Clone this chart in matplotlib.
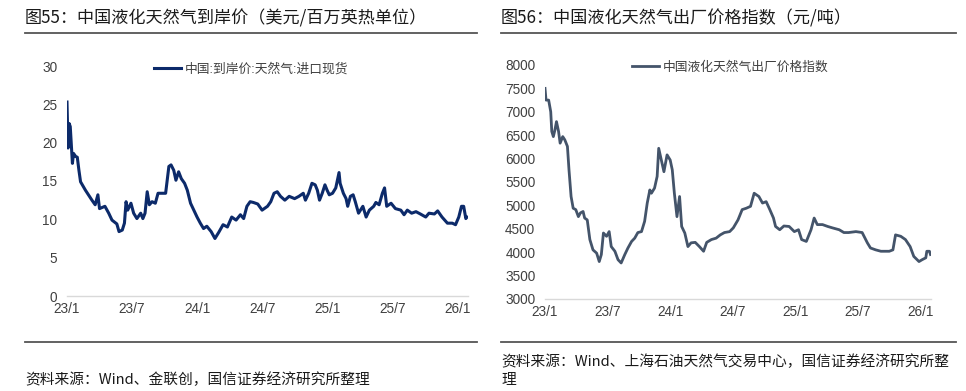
import numpy as np
import matplotlib
matplotlib.use('Agg')
import matplotlib.pyplot as plt
from matplotlib.lines import Line2D

plt.rcParams['font.family'] = ['Liberation Sans', 'Noto Sans CJK SC']

# months since 2023-01
lng_t = [0, 0.1, 0.2, 0.3, 0.5, 0.6, 0.8, 0.95, 1.1, 1.25, 1.7, 2.3, 2.6, 2.85, 3.0, 3.5, 3.85,
         4.15, 4.6, 4.8, 5.1, 5.3, 5.45, 5.6, 5.9, 6.15, 6.45, 6.8, 7.0, 7.2, 7.4, 7.6, 7.85,
         8.15, 8.4, 8.75, 9.1, 9.4, 9.6, 9.85, 10.05, 10.3, 10.55, 10.85, 11.1, 11.4, 11.7,
         12.0, 12.3, 12.6, 12.9, 13.3, 13.65, 14.0, 14.4, 14.8, 15.2, 15.6, 16.0, 16.3, 16.6,
         16.9, 17.2, 17.6, 18.0, 18.5, 18.8, 19.1, 19.4, 19.7, 20.1, 20.5, 21.0, 21.4, 21.8,
         22.0, 22.3, 22.6, 22.9, 23.1, 23.3, 23.55, 23.8, 24.0, 24.2, 24.5, 24.8, 25.1, 25.2,
         25.5, 25.75, 25.9, 26.15, 26.4, 26.6, 26.9, 27.3, 27.6, 27.9, 28.3, 28.5, 28.8, 29.1,
         29.3, 29.5, 29.9, 30.3, 30.8, 31.1, 31.4, 31.8, 32.2, 32.6, 33.1, 33.4, 33.9, 34.2,
         34.6, 35.1, 35.55, 35.85, 36.15, 36.4, 36.6, 36.8, 36.9]
lng_v = [25.3, 19.3, 22.5, 22.1, 17.3, 18.6, 18.2, 18.1, 16.4, 14.9, 13.8, 12.5, 11.9, 13.2, 11.4,
         11.7, 10.8, 9.9, 9.4, 8.4, 8.6, 9.5, 12.3, 11.2, 12.1, 10.8, 10.1, 10.8, 10.1, 10.8,
         13.6, 11.9, 12.3, 12.1, 13.4, 13.4, 13.4, 16.9, 17.1, 16.4, 15.1, 16.2, 15.3, 14.7,
         13.8, 12.1, 11.2, 10.3, 9.5, 8.8, 9.1, 8.4, 7.5, 8.3, 9.3, 9.0, 10.3, 9.9, 10.6, 10.1,
         11.7, 12.3, 12.2, 12.0, 11.2, 11.7, 12.3, 13.4, 13.6, 13.0, 12.5, 13.0, 12.7, 13.0,
         13.4, 12.5, 13.4, 14.7, 14.5, 13.8, 12.5, 13.4, 14.5, 13.8, 13.2, 13.4, 14.1, 16.1,
         14.7, 13.4, 12.7, 11.7, 13.0, 13.2, 12.3, 10.8, 11.7, 10.3, 11.2, 11.7, 12.2, 11.9,
         13.4, 14.1, 11.7, 12.1, 11.4, 11.2, 10.6, 11.2, 10.8, 11.0, 10.7, 10.3, 10.8, 10.7,
         11.1, 10.3, 9.5, 9.5, 9.3, 10.3, 11.7, 11.7, 10.1, 10.3]

idx_t = [0, 0.1, 0.35, 0.55, 0.65, 0.8, 0.95, 1.1, 1.3, 1.45, 1.7, 1.9, 2.15, 2.3, 2.5, 2.7,
         2.95, 3.2, 3.4, 3.65, 3.8, 4.05, 4.3, 4.6, 4.95, 5.2, 5.4, 5.6, 5.9, 6.15, 6.35, 6.7,
         7.0, 7.3, 7.65, 7.95, 8.3, 8.6, 8.9, 9.25, 9.55, 9.8, 10.05, 10.2, 10.5, 10.75, 10.9,
         11.15, 11.4, 11.7, 12.0, 12.2, 12.4, 12.65, 12.9, 13.1, 13.4, 13.7, 14.0, 14.4, 14.8,
         15.2, 15.5, 15.95, 16.4, 16.8, 17.2, 17.7, 18.05, 18.5, 18.9, 19.3, 19.7, 20.05, 20.5,
         20.85, 21.2, 21.55, 21.9, 22.1, 22.5, 22.9, 23.4, 23.9, 24.3, 24.6, 25.05, 25.5, 25.8,
         26.1, 26.6, 27.1, 27.55, 28.2, 28.65, 29.1, 29.8, 30.4, 30.9, 31.2, 31.7, 32.2, 33.0,
         33.35, 33.6, 34.1, 34.55, 35.0, 35.35, 35.85, 36.15, 36.5, 36.6, 36.85, 36.95]
idx_v = [7500, 7250, 7250, 7000, 6580, 6470, 6610, 6790, 6580, 6330, 6470, 6400, 6260, 5760,
         5190, 4940, 4910, 4760, 4840, 4870, 4730, 4690, 4270, 4050, 3980, 3800, 3950, 4410,
         4340, 4440, 4120, 4020, 3840, 3770, 3950, 4090, 4230, 4300, 4420, 4440, 4660, 5050,
         5330, 5260, 5370, 5620, 6220, 5970, 5720, 6080, 5970, 5760, 5260, 4760, 5190, 4550,
         4410, 4120, 4200, 4210, 4120, 4020, 4210, 4270, 4300, 4370, 4420, 4440, 4520, 4690,
         4910, 4940, 4980, 5260, 5190, 5050, 5080, 4910, 4730, 4550, 4480, 4560, 4550, 4440,
         4480, 4270, 4230, 4480, 4730, 4590, 4590, 4550, 4520, 4480, 4420, 4420, 4440, 4420,
         4200, 4090, 4050, 4020, 4020, 4050, 4370, 4340, 4270, 4120, 3910, 3800, 3840, 3880,
         4020, 4020, 3950]

tick_pos = [0, 6, 12, 18, 24, 30, 36]
tick_lab = ['23/1', '23/7', '24/1', '24/7', '25/1', '25/7', '26/1']

W, H = 966, 391
fig = plt.figure(figsize=(W / 100, H / 100), dpi=100)


def box(x0, x1, ytop, ybot):
    return [x0 / W, 1 - ybot / H, (x1 - x0) / W, (ybot - ytop) / H]


def style(ax, leg_x):
    for s in ['left', 'right', 'top']:
        ax.spines[s].set_visible(False)
    ax.spines['bottom'].set_color('#d9d9d9')
    ax.spines['bottom'].set_linewidth(1.0)
    ax.tick_params(axis='both', length=0, labelsize=9.8, colors='#404040')
    ax.tick_params(axis='y', pad=7)
    ax.tick_params(axis='x', pad=4)
    ax.set_xticks(tick_pos)
    ax.set_xticklabels(tick_lab)
    ax.set_xlim(0, 37)
    leg = ax.legend(loc='upper center', bbox_to_anchor=(leg_x, 1.065), frameon=False,
                    fontsize=9.2, handlelength=2.1, handletextpad=0.3)
    for t in leg.get_texts():
        t.set_color('#404040')


ax1 = fig.add_axes(box(67, 468, 66, 296))
ax1.plot(lng_t, lng_v, color='#0c2a6a', lw=2.2, label='中国:到岸价:天然气:进口现货')
ax1.set_ylim(0, 30)
ax1.set_yticks([0, 5, 10, 15, 20, 25, 30])
style(ax1, 0.46)

ax2 = fig.add_axes(box(545, 931, 65, 299))
ax2.plot(idx_t, idx_v, color='#44546a', lw=2.0, label='中国液化天然气出厂价格指数')
ax2.set_ylim(3000, 8000)
ax2.set_yticks(range(3000, 8001, 500))
style(ax2, 0.48)

cjk = ['Noto Sans CJK SC', 'DejaVu Sans']
fig.text(25 / W, 1 - 18 / H, '图55：中国液化天然气到岸价（美元/百万英热单位）', family=cjk,
         fontsize=12.3, color='#1a1a1a', va='center', ha='left')
fig.text(501 / W, 1 - 18 / H, '图56：中国液化天然气出厂价格指数（元/吨）', family=cjk,
         fontsize=12.3, color='#1a1a1a', va='center', ha='left')

for x0, x1 in [(25, 477), (501, 956)]:
    for y in [33, 342]:
        fig.add_artist(Line2D([x0 / W, x1 / W], [1 - y / H, 1 - y / H], color='#555555', lw=1.3))

fig.text(25 / W, 1 - 380 / H, '资料来源：Wind、金联创，国信证券经济研究所整理', family=cjk,
         fontsize=10.6, color='#1a1a1a', va='center', ha='left')
fig.text(501 / W, 1 - 371 / H, '资料来源：Wind、上海石油天然气交易中心，国信证券经济研究所整\n理',
         family=cjk, fontsize=10.6, color='#1a1a1a', va='center', ha='left', linespacing=1.35)

fig.savefig('out.png', dpi=100, facecolor='white')
